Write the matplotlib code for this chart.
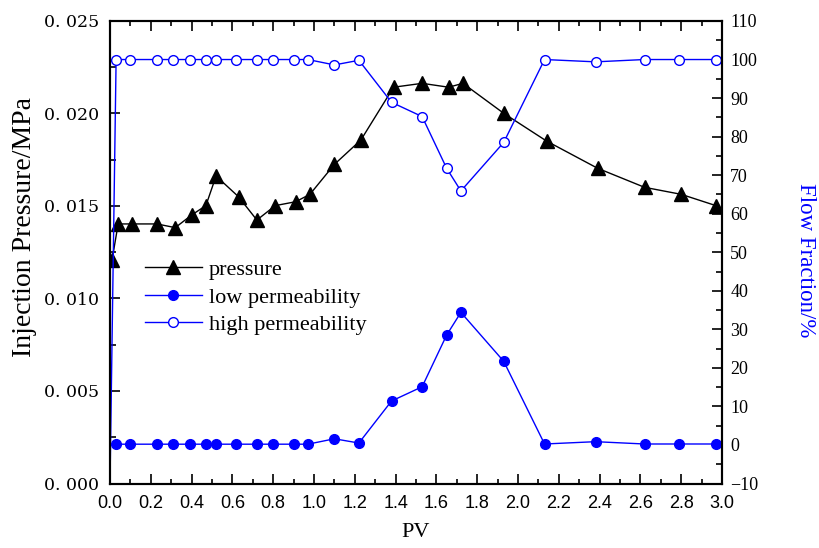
import numpy as np
import matplotlib
matplotlib.use("Agg")
import matplotlib.pyplot as plt
from matplotlib.lines import Line2D
from matplotlib.ticker import MultipleLocator, FuncFormatter

# PV positions and values
pv_pressure = [0.01, 0.04, 0.11, 0.23, 0.32, 0.40, 0.47, 0.52, 0.63, 0.72, 0.81,
               0.91, 0.98, 1.10, 1.23, 1.39, 1.53, 1.66, 1.73, 1.93, 2.14, 2.39,
               2.62, 2.80, 2.97]
pressure = [0.01208, 0.01403, 0.01403, 0.01403, 0.01383, 0.01451, 0.01502, 0.01662,
            0.01550, 0.01424, 0.01502, 0.01523, 0.01563, 0.01725, 0.01857, 0.02142,
            0.02163, 0.02142, 0.02163, 0.02001, 0.01851, 0.01704, 0.01601, 0.01563,
            0.01502]

pv_flow = [0.03, 0.10, 0.23, 0.31, 0.39, 0.47, 0.52, 0.62, 0.72, 0.80, 0.90, 0.97,
           1.10, 1.22, 1.38, 1.53, 1.65, 1.72, 1.93, 2.13, 2.38, 2.62, 2.79, 2.97]
low_perm = [0.2, 0.2, 0.2, 0.2, 0.2, 0.2, 0.2, 0.2, 0.2, 0.2, 0.2, 0.2,
            1.6, 0.5, 11.4, 15.1, 28.5, 34.4, 21.7, 0.25, 0.85, 0.25, 0.25, 0.25]
high_perm = [100.0, 100.0, 100.0, 100.0, 100.0, 100.0, 100.0, 100.0, 100.0, 100.0,
             100.0, 100.0, 98.6, 99.8, 88.9, 85.2, 71.8, 65.9, 78.5, 100.0, 99.4,
             100.0, 100.0, 100.0]
# high permeability curve starts from the bottom at PV = 0 (no marker drawn there)
high_start = (0.0, -10.0)

serif = "Liberation Serif"
sans = "Liberation Sans"
blue = "#0000ff"

fig = plt.figure(figsize=(8.19, 5.48), dpi=100)
ax = fig.add_axes([0.1343, 0.1177, 0.7473, 0.8440])
ax2 = ax.twinx()

ax.plot(pv_pressure, pressure, color="black", lw=1.0, marker="^", ms=10, zorder=3)

hx = [high_start[0]] + pv_flow
hy = [high_start[1]] + high_perm
ax2.plot(pv_flow, low_perm, color=blue, lw=1.0, marker="o", ms=7,
         mfc=blue, mec=blue)
ax2.plot(hx, hy, color=blue, lw=1.0, marker="o", ms=7, mfc="white",
         mec=blue, markevery=list(range(1, len(hx))))

ax.set_xlim(0, 3.0)
ax.set_ylim(0, 0.025)
ax2.set_ylim(-10, 110)

ax.xaxis.set_major_locator(MultipleLocator(0.2))
ax.xaxis.set_minor_locator(MultipleLocator(0.1))
ax.yaxis.set_major_locator(MultipleLocator(0.005))
ax.yaxis.set_minor_locator(MultipleLocator(0.0025))
ax2.yaxis.set_major_locator(MultipleLocator(10))
ax2.yaxis.set_minor_locator(MultipleLocator(5))

ax.xaxis.set_major_formatter(FuncFormatter(lambda v, p: f"{v:.1f}"))
ax.yaxis.set_major_formatter(FuncFormatter(lambda v, p: "0. %03d" % int(round(v * 1000))))
ax2.yaxis.set_major_formatter(FuncFormatter(lambda v, p: f"{int(round(v))}".replace("-", "\u2212")))

ax.tick_params(axis="x", which="both", direction="in", top=True, bottom=True)
ax.tick_params(axis="x", which="major", length=7, width=1.2, labelsize=13, pad=8)
ax.tick_params(axis="x", which="minor", length=3.5, width=1.2)
ax.tick_params(axis="y", which="major", direction="in", length=7, width=1.2,
               labelsize=12.5, pad=8)
ax.tick_params(axis="y", which="minor", direction="in", length=4, width=1.2)
ax2.tick_params(axis="y", which="major", direction="in", length=7, width=1.2,
                labelsize=13, pad=6)
ax2.tick_params(axis="y", which="minor", direction="in", length=4, width=1.2)

for lab in ax.get_xticklabels():
    lab.set_fontfamily(sans)
for lab in ax.get_yticklabels():
    lab.set_fontfamily("DejaVu Serif")
for lab in ax2.get_yticklabels():
    lab.set_fontfamily(serif)

for s in list(ax.spines.values()) + list(ax2.spines.values()):
    s.set_linewidth(1.5)

ax.set_xlabel("PV", fontfamily=serif, fontsize=16)
ax.xaxis.set_label_coords(0.5, -0.085)
ax.set_ylabel("Injection Pressure/MPa", fontfamily=serif, fontsize=20)
ax.yaxis.set_label_coords(-0.12, 0.555)
ax2.set_ylabel("Flow Fraction/%", fontfamily=serif, fontsize=16.5, color=blue,
               rotation=270, va="center")
ax2.yaxis.set_label_coords(1.136, 0.483)

handles = [
    Line2D([], [], color="black", lw=1.0, marker="^", ms=10),
    Line2D([], [], color=blue, lw=1.0, marker="o", ms=7, mfc=blue, mec=blue),
    Line2D([], [], color=blue, lw=1.0, marker="o", ms=7, mfc="white", mec=blue),
]
labels = ["pressure", "low permeability", "high permeability"]
ax.legend(handles, labels, loc="upper left", bbox_to_anchor=(0.057, 0.484),
          frameon=False, prop={"family": serif, "size": 16},
          handlelength=2.57, handletextpad=0.3, labelspacing=0.31,
          borderpad=0, borderaxespad=0)

fig.savefig("out.png", dpi=100)
